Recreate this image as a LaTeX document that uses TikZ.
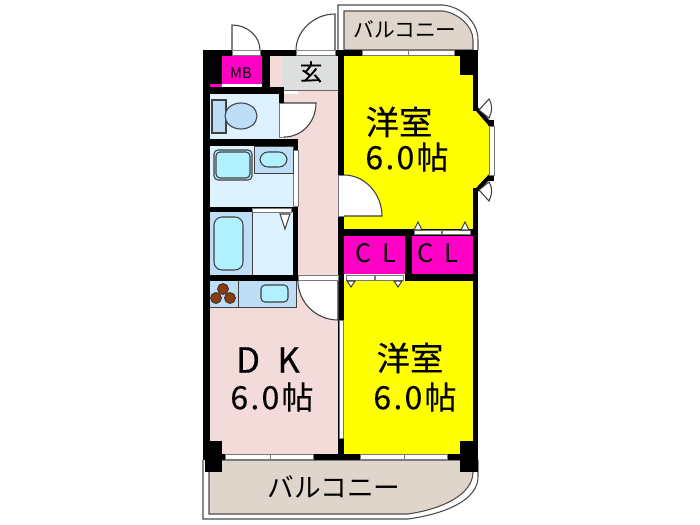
\documentclass[tikz,border=0pt]{standalone}
\usepackage{fontspec}
\newfontfamily\jpfont{Noto Sans CJK JP}
\newfontfamily\jpheavy[FakeBold=0.3]{Noto Sans CJK JP}
\newfontfamily\jpwide[LetterSpace=7,FakeBold=0.2]{Noto Sans CJK JP}
\definecolor{roomyellow}{HTML}{FFFF00}
\definecolor{pinkroom}{HTML}{F2DBD8}
\definecolor{bathpale}{HTML}{DDF1FF}
\definecolor{bathmid}{HTML}{BEDDF6}
\definecolor{bathcyan}{HTML}{B0F0FF}
\definecolor{balcony}{HTML}{DFD5CB}
\definecolor{entry}{HTML}{DDDFDF}
\definecolor{closet}{HTML}{FF00C4}
\definecolor{burner}{HTML}{8B3A0A}
\definecolor{stripline}{HTML}{777777}
\tikzset{
  room/.style={font=\jpheavy\fontsize{25}{25}\selectfont,inner sep=0pt},
  area/.style={font=\jpwide\fontsize{24}{24}\selectfont,inner sep=0pt},
  fixture/.style={draw=black!75,line width=0.8pt,rounded corners=3pt,fill=bathcyan},
  leaf/.style={draw=black!75,line width=0.8pt,fill=white},
  strip/.style={draw=stripline,line width=0.5pt,fill=white}
}
\begin{document}
\begin{tikzpicture}[x=0.75pt,y=-0.75pt]
  \useasboundingbox (0,0) rectangle (700,525);
  \def \Rooms{
    344/56/473/230/roomyellow,
    344/281/473/454/roomyellow,
    210/281/338/454/pinkroom,
    298/90/338/281/pinkroom,
    284/94/298/140/pinkroom,
    270/56/282/87/pinkroom,
    282/56/338/90/entry,
    222/56/262/84/closet,
    210/84/222/87/closet,
    344/236/405/274/closet,
    412/236/473/274/closet,
    210/94/279/139/bathpale,
    210/146/293/207/bathpale,
    252/212/293/275/bathpale,
    210/212/252/275/bathmid,
    254/146/293/173/bathmid,
    210/281/296/307/bathmid}
  \def \Walls{
    203/50/210/460,
    203/50/338/56,
    210/56/222/84,
    262/56/270/94,
    203/87/284/94,
    279/87/284/103,
    203/139/298/146,
    293/139/298/281,
    203/207/298/212,
    203/275/298/281,
    338/50/344/460,
    338/50/362/56,
    454/50/478/56,
    460/56/473/75,
    473/50/478/111,
    473/188/478/460,
    338/229/478/236,
    405/236/412/281,
    405/274/478/281,
    205/441/222/472,
    460/441/478/472,
    203/454/478/460,
    488/120/494/126,
    488/175/494/181}
  \def \Strips{
    232/50/260/55,
    296/50/335/55,
    362/50/408/55,
    408/50/454/55,
    279/103/284/137,
    293/150/298/206,
    252/208/291/212,
    298/275/338/280,
    338/175/344/216,
    339/320/343/438,
    414/230/441/234,
    442/230/470/234,
    346/275/374/280,
    375/275/403/280,
    225/454/270/459,
    270/454/313/459,
    360/454/404/459,
    404/454/447/459,
    489/126/494/175}
  \def \Tips{
    418/222/414/230/422/230,
    465/222/461/230/469/230,
    351/287/347/281/355/281,
    398/287/394/281/402/281,
    285/229/280/214/290/214}
  \def \Burners{223/289,216/298,230/298}
  % balconies
  \draw[draw=black!70,fill=white,line width=0.8pt] (338,50) -- (338,5) -- (443,5) .. controls (462,7) and (478,22) .. (478,40) -- (478,50);
  \fill[balcony,draw=black!70,line width=0.8pt] (344,50) -- (344,11) -- (443,11) .. controls (458,13) and (473,26) .. (473,40) -- (473,50) -- cycle;
  \draw[draw=black!70,fill=white,line width=0.8pt] (203,460) -- (203,519) -- (408,519) .. controls (445,514) and (478,500) .. (478,477) -- (478,460);
  \fill[balcony,draw=black!70,line width=0.8pt] (209,460) -- (209,514) -- (408,514) .. controls (442,509) and (472,495) .. (473,473) -- (473,460) -- cycle;
  % rooms
  \foreach \xa / \ya / \xb / \yb / \col in \Rooms{
    \fill[\col] (\xa,\ya) rectangle (\xb,\yb);
  }
  \draw[draw=black!60,line width=0.6pt] (282,90) -- (338,90);
  \fill[roomyellow] (473,111) -- (479,111) -- (489,123) -- (489,177) -- (479,188) -- (473,188) -- cycle;
  \draw[line width=3pt] (477,109) -- (490,124);
  \draw[line width=3pt] (477,190) -- (490,176);
  \foreach \xa / \ya / \xb / \yb in \Walls{
    \fill[black] (\xa,\ya) rectangle (\xb,\yb);
  }
  \foreach \xa / \ya / \xb / \yb in \Strips{
    \path[strip] (\xa,\ya) rectangle (\xb,\yb);
  }
  \foreach \xa / \ya / \xb / \yb / \xc / \yc in \Tips{
    \path[leaf] (\xa,\ya) -- (\xb,\yb) -- (\xc,\yc) -- cycle;
  }
  % doors
  \path[leaf] (335,50) -- (335,14) .. controls (313,14) and (296,32) .. (296,50);
  \path[leaf] (232,50) -- (232,25) .. controls (247,25) and (260,36) .. (260,50);
  \path[leaf] (284,103) -- (316,103) .. controls (316,122) and (302,137) .. (284,137);
  \path[leaf] (344,175) .. controls (365,175) and (382,194) .. (382,216) -- (344,216);
  \path[leaf] (298,281) .. controls (298,302) and (316,320) .. (338,320) -- (338,281);
  \path[leaf] (479,110) -- (489,99) .. controls (493,106) and (492,112) .. (489,118) -- cycle;
  \path[leaf] (479,190) -- (489,182) .. controls (493,188) and (492,195) .. (489,201) -- cycle;
  % fittings
  \draw[draw=black!75,line width=0.8pt,fill=bathmid] (212,100) rectangle (226,133);
  \draw[draw=black!75,line width=0.8pt,fill=bathmid] (241,116) ellipse (16 and 13);
  \path[fixture] (214,150) rectangle (252,180);
  \path[fixture,fill=none] (216,152) rectangle (250,178);
  \draw[draw=black!75,line width=0.6pt] (254,146) rectangle (293,173);
  \path[fixture,rounded corners=6pt] (260,152) rectangle (287,167);
  \draw[draw=black!75,line width=0.6pt] (252,212) -- (252,275);
  \path[fixture,rounded corners=6pt] (214,217) rectangle (243,270);
  \draw[draw=black!75,line width=0.6pt] (238,281) -- (238,307) (210,307) -- (296,307) -- (296,281);
  \path[fixture] (261,285) rectangle (288,302);
  \foreach \x / \y in \Burners{
    \draw[draw=black!80,fill=burner,line width=0.6pt] (\x,\y) circle (5.5);
  }
  % labels
  \node[room] (west1) at (399,122) {洋室};
  \node[area] (size1) at (407,157) {6.0帖};
  \node[room] (west2) at (410,358) {洋室};
  \node[area] (size2) at (415,397) {6.0帖};
  \node[font=\jpheavy\fontsize{26}{26}\selectfont,inner sep=0pt] (dk) at (268,360) {D\hspace{0.5em}K};
  \node[area] (size3) at (272,397) {6.0帖};
  \node[font=\jpfont\fontsize{19}{19}\selectfont,inner sep=0pt] (cl1) at (376,253) {C\hspace{0.45em}L};
  \node[font=\jpfont\fontsize{19}{19}\selectfont,inner sep=0pt] (cl2) at (438,253) {C\hspace{0.45em}L};
  \node[font=\jpfont\fontsize{11}{11}\selectfont,inner sep=0pt] (mb) at (241,73) {MB};
  \node[font=\jpheavy\fontsize{17}{17}\selectfont,inner sep=0pt] (genkan) at (311,72) {玄};
  \node[font=\jpfont\fontsize{15.5}{16}\selectfont,inner sep=0pt] (balc1) at (405,29) {バルコニー};
  \node[font=\jpfont\fontsize{20}{20}\selectfont,inner sep=0pt] (balc2) at (334,487) {バルコニー};
\end{tikzpicture}
\end{document}
